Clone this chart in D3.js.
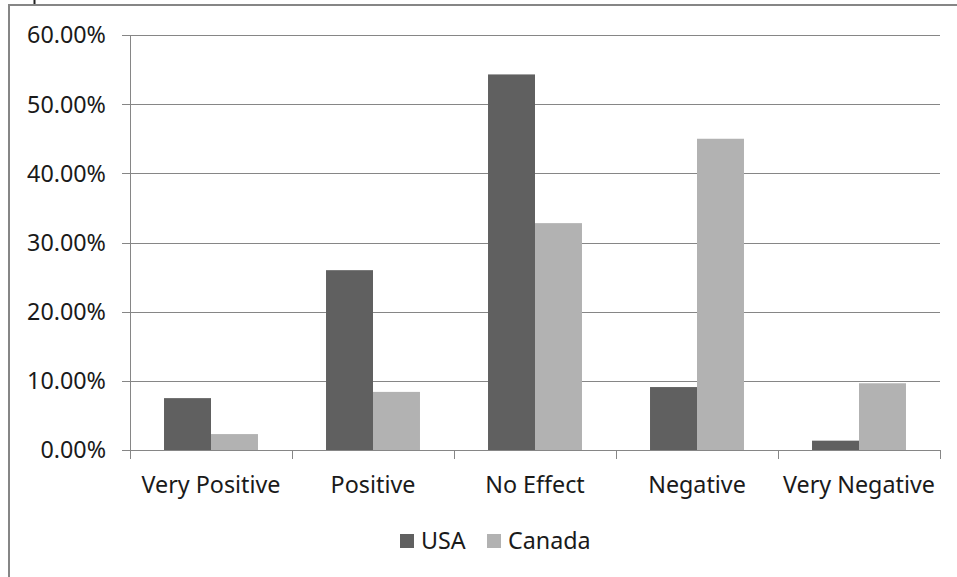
<!DOCTYPE html>
<html>
<head>
<script src="https://d3js.org/d3.v7.min.js"></script>
<style>
body { margin: 0; background: #fff; }
text { font-family: "Noto Sans", sans-serif; fill: #1a1a1a; }
</style>
</head>
<body>
<script>
var categories = ["Very Positive", "Positive", "No Effect", "Negative", "Very Negative"];
var seriesNames = ["USA", "Canada"];
var usaValues = [0.075, 0.26, 0.543, 0.091, 0.0135];
var canadaValues = [0.023, 0.084, 0.328, 0.45, 0.0965];
var yTicks = [0, 0.1, 0.2, 0.3, 0.4, 0.5, 0.6];
var colors = ["#606060", "#b2b2b2"];

var width = 957, height = 577;
var plotLeft = 130, plotRight = 940, plotTop = 35, plotBottom = 450;

var svg = d3.select("body").append("svg")
  .attr("width", width)
  .attr("height", height);

// find font size so text widths match the original
var probe = svg.append("text").attr("font-size", 20).text("Very Positive");
var fs = 20 * 139 / probe.node().getComputedTextLength();
probe.remove();

// outer frame (top and left edges only visible)
svg.append("path")
  .attr("d", "M9,577V5H957")
  .attr("fill", "none")
  .attr("stroke", "#868686")
  .attr("stroke-width", 2);

// clipped stroke of something above the frame
svg.append("rect")
  .attr("x", 33.5).attr("y", 0)
  .attr("width", 2).attr("height", 4)
  .attr("fill", "#222");

var y = d3.scaleLinear().domain([0, 0.6]).range([plotBottom, plotTop]);

var x0 = d3.scaleBand()
  .domain(categories)
  .range([plotLeft, plotRight])
  .paddingInner(0.42)
  .paddingOuter(0.21);

var x1 = d3.scaleBand()
  .domain(seriesNames)
  .range([0, x0.bandwidth()]);

var fmt = d3.format(".2%");

// gridlines + y tick labels
svg.selectAll(".grid")
  .data(yTicks)
  .enter().append("line")
  .attr("x1", plotLeft - 8)
  .attr("x2", plotRight)
  .attr("y1", function(d) { return Math.round(y(d)) + 0.5; })
  .attr("y2", function(d) { return Math.round(y(d)) + 0.5; })
  .attr("stroke", "#868686")
  .attr("stroke-width", 1);

svg.selectAll(".ylab")
  .data(yTicks)
  .enter().append("text")
  .attr("x", 106)
  .attr("y", function(d) { return y(d) + fs * 0.36; })
  .attr("text-anchor", "end")
  .attr("font-size", fs)
  .text(function(d) { return fmt(d); });

// y axis line
svg.append("line")
  .attr("x1", plotLeft + 0.5).attr("x2", plotLeft + 0.5)
  .attr("y1", plotTop).attr("y2", plotBottom + 9)
  .attr("stroke", "#868686");

// bars
var rows = categories.map(function(c, i) {
  return { cat: c, vals: [usaValues[i], canadaValues[i]] };
});

var groups = svg.selectAll(".grp")
  .data(rows)
  .enter().append("g")
  .attr("transform", function(d) { return "translate(" + x0(d.cat) + ",0)"; });

groups.selectAll("rect")
  .data(function(d) { return d.vals.map(function(v, j) { return { s: seriesNames[j], v: v, j: j }; }); })
  .enter().append("rect")
  .attr("x", function(d) { return x1(d.s); })
  .attr("y", function(d) { return y(d.v); })
  .attr("width", x1.bandwidth())
  .attr("height", function(d) { return plotBottom - y(d.v); })
  .attr("fill", function(d) { return colors[d.j]; });

// x axis line and boundary ticks
svg.append("line")
  .attr("x1", plotLeft - 8).attr("x2", plotRight)
  .attr("y1", plotBottom + 0.5).attr("y2", plotBottom + 0.5)
  .attr("stroke", "#868686");

var step = x0.step();
var bounds = d3.range(categories.length + 1).map(function(i) { return plotLeft + i * step; });
svg.selectAll(".xtick")
  .data(bounds)
  .enter().append("line")
  .attr("x1", function(d) { return Math.round(d) + 0.5; })
  .attr("x2", function(d) { return Math.round(d) + 0.5; })
  .attr("y1", plotBottom)
  .attr("y2", plotBottom + 9)
  .attr("stroke", "#868686");

svg.selectAll(".xlab")
  .data(categories)
  .enter().append("text")
  .attr("x", function(d) { return x0(d) + x0.bandwidth() / 2; })
  .attr("y", 493)
  .attr("text-anchor", "middle")
  .attr("font-size", fs)
  .text(function(d) { return d; });

// legend
var legendX = [400, 487];
var legend = svg.selectAll(".leg")
  .data(seriesNames)
  .enter().append("g")
  .attr("transform", function(d, i) { return "translate(" + legendX[i] + ",534)"; });

legend.append("rect")
  .attr("width", 14)
  .attr("height", 14)
  .attr("fill", function(d, i) { return colors[i]; });

legend.append("text")
  .attr("x", 21)
  .attr("y", 15)
  .attr("font-size", fs)
  .text(function(d) { return d; });
</script>
</body>
</html>
